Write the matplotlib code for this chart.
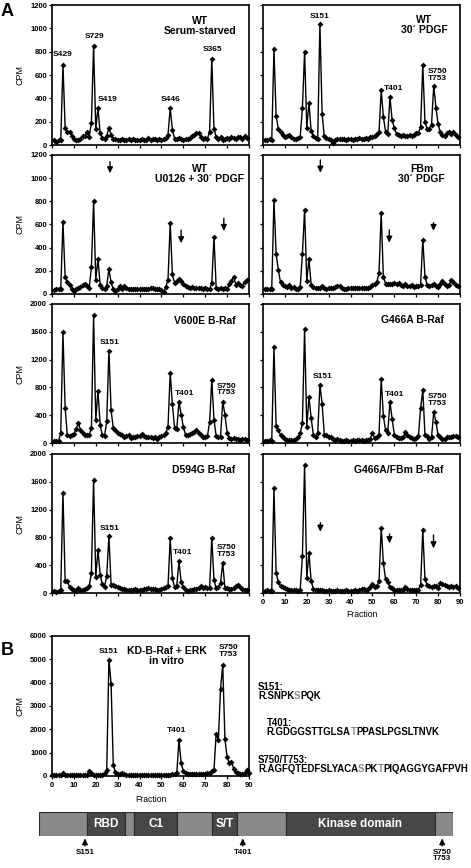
import numpy as np
import matplotlib.pyplot as plt

plt.rcParams['font.family'] = ['Liberation Sans', 'DejaVu Sans']
plt.rcParams['font.weight'] = 'bold'

W, H = 471, 868

# fraction numbers (panel A uses 1-89, panel B 0-90)
fractions = np.arange(1, 90)
b_fractions = np.arange(0, 91)

# CPM per fraction
wt_starved = [40, 30, 40, 40, 690, 150, 110, 115, 80, 55, 40, 40, 55, 75, 80, 110, 70, 190, 850, 140,
              320, 100, 60, 55, 75, 150, 85, 55, 50, 45, 45, 50, 45, 40, 50, 45, 50, 45, 40, 45,
              50, 40, 45, 60, 45, 55, 50, 45, 50, 45, 55, 60, 90, 315, 130, 55, 50, 60, 55, 45,
              55, 50, 60, 75, 90, 100, 105, 70, 55, 60, 50, 115, 740, 135, 70, 50, 65, 40, 55, 60,
              50, 70, 60, 55, 65, 70, 55, 75, 60]
wt_pdgf = [45, 45, 50, 40, 820, 250, 140, 115, 90, 65, 80, 90, 70, 55, 50, 60, 70, 315, 800, 150,
           360, 120, 80, 60, 55, 1040, 270, 75, 60, 55, 45, 20, 40, 55, 50, 55, 50, 45, 55, 50,
           45, 55, 50, 60, 55, 50, 60, 55, 65, 70, 80, 95, 110, 470, 240, 115, 95, 410, 215, 145,
           95, 90, 80, 85, 75, 80, 85, 80, 85, 100, 105, 155, 685, 195, 140, 140, 175, 510, 320, 180,
           110, 90, 80, 100, 110, 95, 110, 90, 70]
wt_u0126 = [35, 40, 40, 40, 620, 150, 100, 75, 40, 30, 40, 50, 60, 75, 90, 65, 55, 230, 800, 125,
            305, 75, 55, 40, 70, 215, 100, 40, 30, 45, 65, 45, 70, 55, 45, 45, 40, 40, 45, 40,
            40, 45, 40, 40, 50, 55, 45, 45, 40, 35, 15, 60, 125, 615, 170, 95, 110, 130, 115, 90,
            70, 60, 55, 60, 55, 55, 50, 55, 45, 50, 45, 40, 95, 495, 55, 40, 55, 45, 50, 40,
            85, 110, 150, 80, 95, 80, 70, 100, 120]
fbm_pdgf = [45, 45, 40, 45, 810, 345, 210, 100, 80, 70, 60, 80, 55, 60, 45, 45, 60, 345, 725, 115,
            300, 80, 60, 55, 55, 55, 65, 50, 40, 55, 55, 55, 60, 70, 70, 50, 45, 45, 50, 50,
            55, 50, 55, 55, 50, 55, 50, 55, 60, 80, 85, 100, 185, 700, 145, 90, 85, 85, 90, 95,
            90, 95, 80, 70, 85, 70, 65, 75, 60, 70, 65, 80, 470, 150, 80, 70, 80, 85, 70, 60,
            85, 110, 85, 70, 80, 120, 100, 80, 70]
v600e = [30, 30, 25, 150, 1590, 510, 110, 100, 120, 130, 200, 285, 190, 140, 120, 110, 120, 210, 1835, 325,
         755, 255, 110, 100, 310, 1330, 470, 215, 190, 150, 130, 110, 80, 100, 120, 75, 90, 90, 100, 100,
         130, 100, 90, 80, 80, 70, 90, 60, 90, 100, 110, 150, 230, 1005, 555, 220, 200, 590, 410, 230,
         120, 110, 130, 150, 160, 190, 150, 120, 90, 80, 100, 295, 910, 335, 100, 80, 90, 595, 410, 150,
         70, 60, 70, 60, 60, 50, 60, 55, 50]
g466a = [35, 35, 40, 35, 1385, 240, 180, 120, 80, 60, 50, 40, 40, 50, 60, 80, 140, 290, 1635, 230,
         660, 360, 120, 80, 140, 835, 565, 120, 110, 90, 80, 60, 50, 60, 40, 35, 35, 40, 30, 35,
         40, 35, 40, 50, 40, 35, 40, 45, 60, 150, 70, 80, 120, 915, 385, 180, 150, 590, 345, 120,
         80, 70, 70, 80, 155, 120, 90, 70, 60, 70, 100, 505, 760, 120, 100, 60, 90, 440, 305, 110,
         80, 60, 60, 80, 90, 80, 100, 100, 90]
d594g = [25, 20, 30, 50, 1445, 175, 170, 90, 60, 40, 30, 75, 50, 50, 60, 70, 100, 290, 1630, 230,
         625, 265, 125, 90, 250, 825, 110, 110, 100, 80, 70, 60, 60, 50, 40, 40, 50, 60, 40, 40,
         50, 60, 60, 70, 60, 60, 60, 50, 50, 60, 70, 80, 100, 790, 210, 85, 100, 455, 165, 80,
         50, 30, 40, 50, 55, 60, 75, 95, 70, 80, 70, 70, 790, 185, 70, 80, 145, 430, 70, 70,
         60, 60, 70, 100, 110, 90, 60, 50, 50]
g466a_fbm = [35, 40, 35, 35, 1505, 290, 160, 100, 90, 70, 60, 50, 40, 50, 40, 30, 40, 530, 1835, 215,
             580, 170, 60, 40, 40, 50, 40, 35, 35, 40, 35, 30, 35, 40, 35, 30, 35, 40, 35, 30,
             35, 40, 35, 40, 60, 60, 50, 60, 80, 135, 90, 100, 170, 940, 430, 195, 160, 80, 70, 50,
             40, 40, 50, 50, 80, 60, 40, 40, 40, 50, 50, 110, 905, 200, 110, 100, 90, 100, 100, 70,
             145, 130, 110, 100, 80, 100, 80, 100, 70]
kd_erk = [50, 50, 60, 50, 60, 120, 60, 50, 50, 60, 50, 50, 60, 50, 50, 60, 50, 210, 120, 60,
          50, 50, 60, 60, 120, 250, 4980, 3950, 460, 160, 100, 70, 130, 70, 50, 50, 50, 40, 50, 50,
          40, 50, 50, 40, 50, 50, 40, 50, 50, 40, 50, 50, 60, 50, 60, 80, 100, 120, 1530, 560,
          200, 110, 90, 80, 90, 80, 90, 80, 90, 100, 90, 110, 150, 200, 250, 1820, 1560, 3750, 4750, 1600,
          800, 560, 620, 300, 170, 120, 100, 90, 110, 250, 150]

# B-Raf schematic (not to scale): segment edges, names, phospho-sites
domain_edges = [0, 89, 159, 176, 256, 320, 367, 457, 732, 766]
domain_names = ['', 'RBD', '', 'C1', '', 'S/T', '', 'Kinase domain', '']
site_pos = [85, 377, 746]
site_names = ['S151', 'T401', 'S750\nT753']

fig = plt.figure(figsize=(W / 100, H / 100), dpi=100)


def add_px_axes(l, t, r, b):
    return fig.add_axes([l / W, 1 - b / H, (r - l) / W, (b - t) / H])


def style_axes(ax, ymax, ystep, ylabels, xlabels):
    ax.set_xlim(0, 90)
    ax.set_ylim(0, ymax)
    ax.set_xticks(range(0, 91, 10))
    ax.set_yticks(range(0, ymax + 1, ystep))
    for s in ax.spines.values():
        s.set_linewidth(1.2)
    ax.tick_params(direction='out', length=2.5, width=0.9, labelsize=5.5)
    ax.tick_params(axis='y', pad=1)
    ax.tick_params(axis='x', pad=2)
    ax.tick_params(labelleft=ylabels, labelbottom=xlabels)
    if ylabels:
        ax.set_ylabel('CPM', fontsize=6.5)
        ax.yaxis.set_label_coords(-0.14, 0.5)


def draw_trace(ax, x, y):
    ax.plot(x, y, '-', color='k', lw=1.0, marker='D', ms=3.0, mew=0, clip_on=False)


def down_arrow(ax, x, y_tail, y_tip):
    ax.annotate('', xy=(x, y_tip), xytext=(x, y_tail),
                arrowprops=dict(arrowstyle='-|>,head_length=0.35,head_width=0.17',
                                color='k', lw=1.0, shrinkA=0, shrinkB=0))


cols = [(52, 249), (263, 460)]
rows = [(5, 145), (155, 294), (304, 443), (454, 593)]

panels = [
    (wt_starved, 0, 0, 1200, 200, 'WT\nSerum-starved', (0.75, 0.85),
     [('S429', 5.0, 780), ('S729', 19.2, 928), ('S419', 25.3, 394), ('S446', 54.2, 392), ('S365', 73.2, 820)], []),
    (wt_pdgf, 0, 1, 1200, 200, 'WT\n30\u00b4 PDGF', (0.82, 0.86),
     [('S151', 26.0, 1100), ('T401', 59.5, 486), ('S750\nT753', 79.6, 603)], []),
    (wt_u0126, 1, 0, 1200, 200, 'WT\nU0126 + 30\u00b4 PDGF', (0.75, 0.865),
     [], [(26.5, 1142, 1042), (59, 552, 438), (78.5, 653, 544)]),
    (fbm_pdgf, 1, 1, 1200, 200, 'FBm\n30\u00b4 PDGF', (0.806, 0.863),
     [], [(26.2, 1157, 1047), (57.7, 553, 443), (77.9, 616, 544)]),
    (v600e, 2, 0, 2000, 400, 'V600E B-Raf', (0.778, 0.88),
     [('S151', 26.5, 1443), ('T401', 60.4, 715), ('S750\nT753', 79.8, 770)], []),
    (g466a, 2, 1, 2000, 400, 'G466A B-Raf', (0.76, 0.885),
     [('S151', 27.1, 954), ('T401', 60.3, 705), ('S750\nT753', 79.6, 619)], []),
    (d594g, 3, 0, 2000, 400, 'D594G B-Raf', (0.772, 0.885),
     [('S151', 26.5, 931), ('T401', 59.7, 580), ('S750\nT753', 79.8, 604)], []),
    (g466a_fbm, 3, 1, 2000, 400, 'G466A/FBm B-Raf', (0.69, 0.885),
     [], [(26.2, 1012, 882), (57.8, 849, 715), (77.9, 835, 643)]),
]

for data, r, c, ymax, ystep, title, txy, labels, arrows in panels:
    ax = add_px_axes(cols[c][0], rows[r][0], cols[c][1], rows[r][1])
    style_axes(ax, ymax, ystep, ylabels=(c == 0), xlabels=(r == 3 and c == 1))
    draw_trace(ax, fractions, data)
    ax.text(txy[0], txy[1], title, transform=ax.transAxes, ha='center', va='center',
            fontsize=7.5, linespacing=1.0)
    for s, lx, ly in labels:
        ax.text(lx, ly, s, ha='center', va='center', fontsize=6, linespacing=0.95)
    for ax_x, y0, y1 in arrows:
        down_arrow(ax, ax_x, y0, y1)
    if r == 3 and c == 1:
        ax.set_xlabel('Fraction', fontsize=6.2)
        ax.xaxis.set_label_coords(0.5, -0.12)

# panel B
axb = add_px_axes(52, 636, 249, 776)
style_axes(axb, 6000, 1000, ylabels=True, xlabels=True)
draw_trace(axb, b_fractions, kd_erk)
axb.text(0.582, 0.86, 'KD-B-Raf + ERK\nin vitro', transform=axb.transAxes, ha='center',
         va='center', fontsize=7.5, linespacing=1.0)
axb.text(25.7, 5327, 'S151', ha='center', va='center', fontsize=6)
axb.text(56.9, 1971, 'T401', ha='center', va='center', fontsize=6)
axb.text(80.5, 5357, 'S750\nT753', ha='center', va='center', fontsize=6, linespacing=0.95)
axb.set_xlabel('Fraction', fontsize=6.2)
axb.xaxis.set_label_coords(0.5, -0.136)

# domain schematic
dom = add_px_axes(39, 812, 453, 836)
dom.set_xlim(0, 766)
dom.set_ylim(0, 1)
dom.set_axis_off()
edges = np.array(domain_edges)
seg_colors = ['#8a8a8a' if i % 2 == 0 else '#474747' for i in range(len(domain_names))]
dom.bar(edges[:-1], 1, width=np.diff(edges), align='edge', color=seg_colors,
        edgecolor='#2a2a2a', linewidth=0.8)
for i, name in enumerate(domain_names):
    if name:
        dom.text((edges[i] + edges[i + 1]) / 2, 0.5, name, color='white', ha='center',
                 va='center', fontsize=8.5)
for p, name in zip(site_pos, site_names):
    dom.annotate('', xy=(p, -0.1), xytext=(p, -0.42), annotation_clip=False,
                 arrowprops=dict(arrowstyle='-|>,head_length=0.35,head_width=0.17',
                                 color='k', lw=0.9, shrinkA=0, shrinkB=0))
    dom.text(p, -0.53, name, ha='center', va='top', fontsize=5.8, linespacing=0.95)

# overlay in pixel coordinates for free text
ov = fig.add_axes([0, 0, 1, 1], frameon=False)
ov.set_axis_off()
ov.set_xlim(0, W)
ov.set_ylim(H, 0)
ov.text(7.5, 11.5, 'A', fontsize=13, ha='center', va='center')
ov.text(7, 650.5, 'B', fontsize=13, ha='center', va='center')

gray = '#8a8a8a'
seq_size = 6.9
peptides = [
    (258, 687, 'S151:', [('R.SNPK', 'k'), ('S', gray), ('PQK', 'k')]),
    (266.7, 722.7, 'T401:', [('R.GDGGSTTGLSA', 'k'), ('T', gray), ('PPASLPGSLTNVK', 'k')]),
    (258, 760, 'S750/T753:', [('R.AGFQTEDFSLYACA', 'k'), ('S', gray), ('PK', 'k'), ('T', gray),
                              ('PIQAGGYGAFPVH', 'k')]),
]
for x0, y0, head, parts in peptides:
    ov.text(x0, y0, head, fontsize=seq_size, ha='left', va='center')
    t = ov.text(x0, y0 + 9, parts[0][0], color=parts[0][1], fontsize=seq_size, ha='left', va='center')
    for s, col in parts[1:]:
        t = ov.annotate(s, xy=(1, 0.5), xycoords=t, color=col, fontsize=seq_size,
                        ha='left', va='center')

fig.savefig('out.png', dpi=100)
